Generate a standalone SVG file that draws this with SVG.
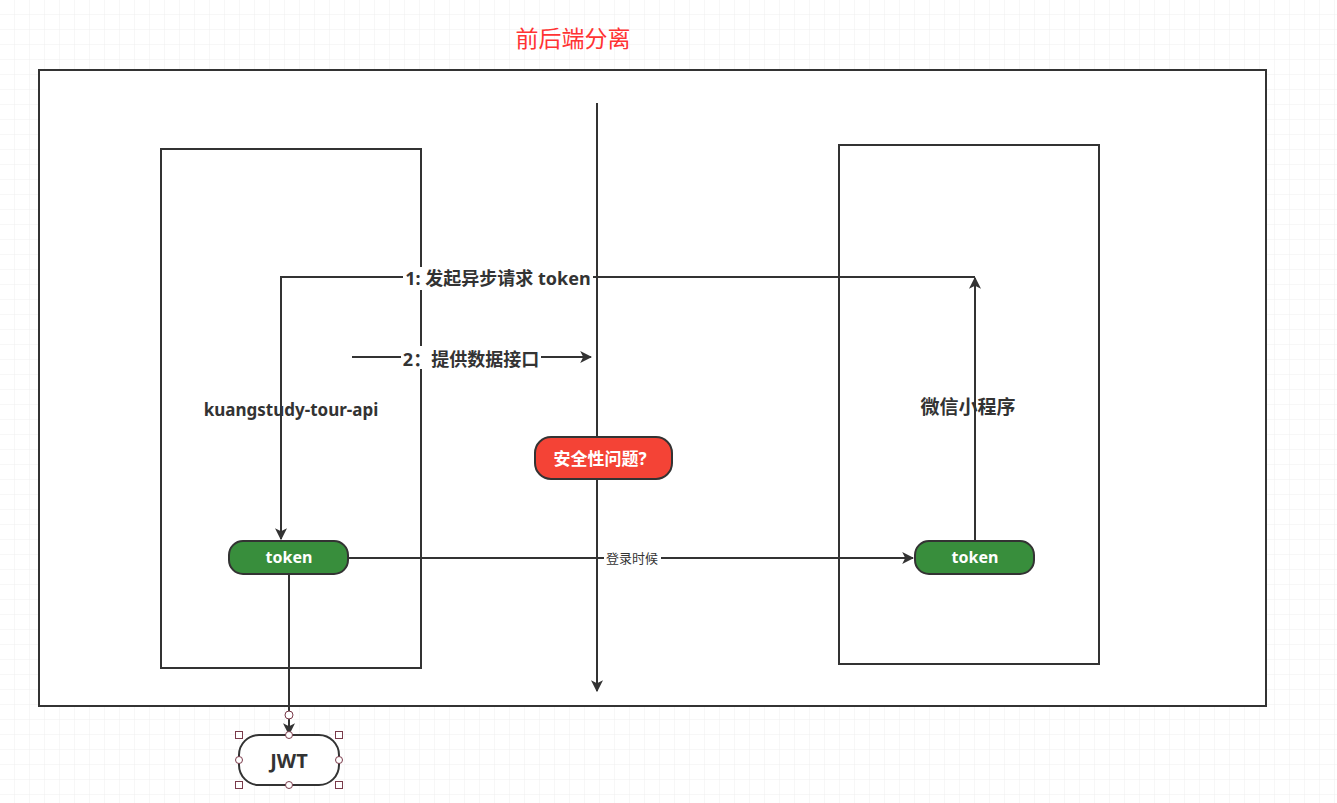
<svg xmlns="http://www.w3.org/2000/svg" width="1337" height="803" viewBox="0 0 1337 803">
<defs>
<pattern id="grid" width="15" height="15" patternUnits="userSpaceOnUse">
<path d="M15 0V15M0 15H15" fill="none" stroke="#efefef" stroke-width="1"/>
</pattern>
<marker id="arr" viewBox="0 0 10 10" refX="9" refY="5" markerWidth="12" markerHeight="12" markerUnits="userSpaceOnUse" orient="auto">
<path d="M0 0L10 5L0 10L2.5 5Z" fill="#333"/>
</marker>
<style>
.box{fill:#fff;stroke:#333;stroke-width:2}
.edge{fill:none;stroke:#333;stroke-width:2}
.lbl{font-family:"Noto Sans","Noto Sans CJK SC",sans-serif;font-weight:bold;fill:#333;text-anchor:middle}
.pill{stroke:#333;stroke-width:2}
.wt{font-family:"Noto Sans","Noto Sans CJK SC",sans-serif;font-weight:bold;fill:#fff;text-anchor:middle}
.hs{fill:#fff;stroke:#7a3a4a;stroke-width:1}
</style>
</defs>
<rect width="1337" height="803" fill="#fff"/>
<rect width="1337" height="803" fill="url(#grid)"/>
<text x="573" y="47" font-family="'Noto Sans CJK SC',sans-serif" font-size="23" fill="#ff3333" text-anchor="middle">前后端分离</text>
<g id="outer"><rect class="box" x="39" y="70" width="1227" height="636"/></g>
<g id="left-panel"><rect class="box" x="161" y="149" width="260" height="519"/></g>
<g id="right-panel"><rect class="box" x="839" y="145" width="260" height="519"/></g>
<g id="left-label"><text class="lbl" x="291" y="416" font-size="17">kuangstudy-tour-api</text></g>
<g id="right-label"><text class="lbl" x="968" y="414" font-size="19">微信小程序</text></g>
<g id="connectors">
<line class="edge" x1="597" y1="103" x2="597" y2="691" marker-end="url(#arr)"/>
<path class="edge" d="M975 277H281V539" marker-end="url(#arr)"/>
<line class="edge" x1="975" y1="541" x2="975" y2="278" marker-end="url(#arr)"/>
<line class="edge" x1="352" y1="357" x2="591" y2="357" marker-end="url(#arr)"/>
<line class="edge" x1="348" y1="558" x2="913" y2="558" marker-end="url(#arr)"/>
<line class="edge" x1="289" y1="574" x2="289" y2="734" marker-end="url(#arr)"/>
<rect x="403" y="267" width="190" height="23" fill="#fff"/>
<text class="lbl" x="498" y="285" font-size="18">1: 发起异步请求 token</text>
<rect x="401" y="346" width="140" height="23" fill="#fff"/>
<text class="lbl" x="471" y="366" font-size="18">2：提供数据接口</text>
<rect x="604" y="550" width="57" height="17" fill="#fff"/>
<text x="632" y="563" font-family="'Noto Sans CJK SC',sans-serif" font-size="13" fill="#333" text-anchor="middle">登录时候</text>
</g>
<g id="security">
<rect class="pill" x="535" y="437" width="137" height="42" rx="16" fill="#f44336"/>
<text class="wt" x="600" y="465" font-size="17">安全性问题?</text>
</g>
<g id="token-left">
<rect class="pill" x="229" y="541" width="119" height="33" rx="14" fill="#388e3c"/>
<text class="wt" x="289" y="563" font-size="16">token</text>
</g>
<g id="token-right">
<rect class="pill" x="915" y="541" width="119" height="33" rx="14" fill="#388e3c"/>
<text class="wt" x="975" y="563" font-size="16">token</text>
</g>
<g id="jwt">
<rect x="239" y="735" width="100" height="50" rx="20" fill="#fff" stroke="#333" stroke-width="2"/>
<text class="lbl" x="289" y="768" font-size="20">JWT</text>
<circle class="hs" cx="289" cy="715" r="4"/>
<rect class="hs" x="235.5" y="731.5" width="7" height="7"/>
<rect class="hs" x="335.5" y="731.5" width="7" height="7"/>
<rect class="hs" x="235.5" y="781.5" width="7" height="7"/>
<rect class="hs" x="335.5" y="781.5" width="7" height="7"/>
<circle class="hs" cx="289" cy="735" r="3.5"/>
<circle class="hs" cx="239" cy="760" r="3.5"/>
<circle class="hs" cx="339" cy="760" r="3.5"/>
<circle class="hs" cx="289" cy="785" r="3.5"/>
</g>
</svg>
